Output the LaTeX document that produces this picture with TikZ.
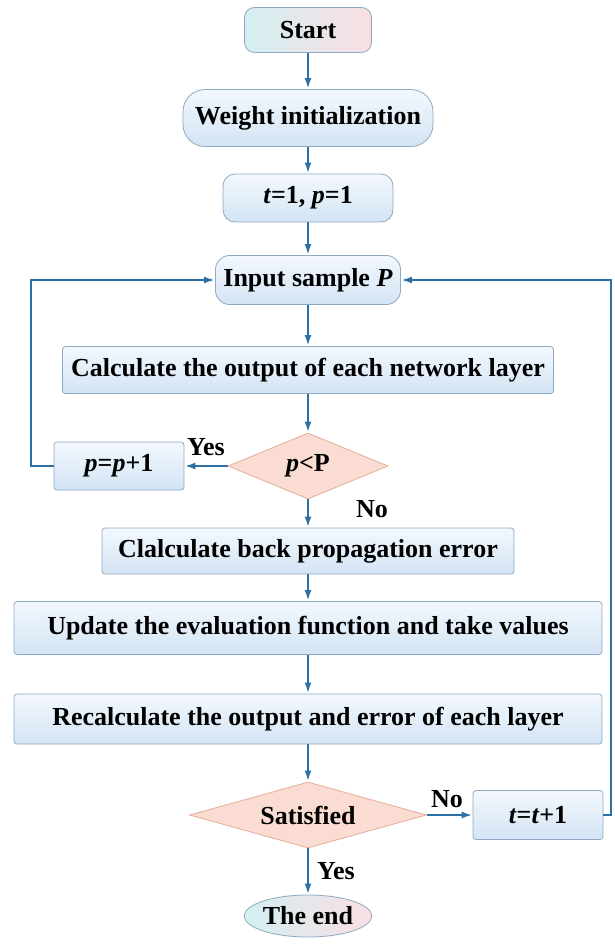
\documentclass[tikz,border=0pt]{standalone}
\usepackage{fontspec}
\setmainfont{Liberation Serif}
\usepackage{tikz}
\usetikzlibrary{arrows.meta,shapes.geometric}
\definecolor{lblue}{RGB}{44,112,165}
\definecolor{bframe}{RGB}{142,169,193}
\definecolor{btop}{RGB}{243,248,253}
\definecolor{bbot}{RGB}{211,228,244}
\definecolor{dfill}{RGB}{251,220,210}
\definecolor{dframe}{RGB}{227,174,152}
\definecolor{scyan}{RGB}{211,239,241}
\definecolor{spink}{RGB}{249,222,226}

\begin{document}
\begin{tikzpicture}[x=1pt,y=-1pt,
    font=\fontsize{26}{28}\selectfont\bfseries,
    box/.style={draw=bframe,line width=0.8pt,top color=btop,bottom color=bbot,
        inner sep=0pt,rounded corners=3pt},
    term/.style={draw=bframe,line width=0.8pt,left color=scyan,right color=spink,inner sep=0pt},
    test/.style={diamond,draw=dframe,line width=0.8pt,fill=dfill,inner sep=0pt,aspect=2.4},
    flow/.style={lblue,line width=2.2pt,-{Latex[length=11pt,width=7pt]}},
    lbl/.style={inner sep=0pt}]
\useasboundingbox (0,0) rectangle (614,944);

\node[term,rounded corners=10pt,minimum width=127pt,minimum height=45pt] (start) at (308,30) {Start};
\node[box,rounded corners=22pt,minimum width=250pt,minimum height=57pt] (weight) at (308,118) {Weight initialization};
\node[box,rounded corners=12pt,minimum width=170pt,minimum height=48pt] (tinit) at (308,198) {\textit{t}=1, \textit{p}=1};
\node[box,rounded corners=14pt,minimum width=185pt,minimum height=49pt] (input) at (308,280) {Input sample \textit{P}};
\node[box,minimum width=491pt,minimum height=47pt] (calcout) at (308,370) {Calculate the output of each network layer};
\node[test,minimum width=160pt,minimum height=66pt] (pcheck) at (308,466) {\textit{p}<P};
\node[box,minimum width=130pt,minimum height=48pt] (pinc) at (119,466) {\textit{p}=\textit{p}+1};
\node[box,minimum width=412pt,minimum height=46pt] (backprop) at (308,551) {Clalculate back propagation error};
\node[box,minimum width=588pt,minimum height=53pt] (update) at (308,628) {Update the evaluation function and take values};
\node[box,minimum width=588pt,minimum height=50pt] (recalc) at (308,719) {Recalculate the output and error of each layer};
\node[test,aspect=3.6,minimum width=237pt,minimum height=66pt] (satisfied) at (308,815) {Satisfied};
\node[box,minimum width=130pt,minimum height=49pt] (tinc) at (538,815) {\textit{t}=\textit{t}+1};
\node[term,ellipse,minimum width=122pt,minimum height=42pt] (theend) at (308,916) {The end};

\node[lbl] (yesp) at (206,447) {Yes};
\node[lbl] (nop) at (372,509) {No};
\node[lbl] (nos) at (447,799) {No};
\node[lbl] (yess) at (336,871) {Yes};

\coordinate (lloop) at (31,466);
\coordinate (rloop) at (611,815);

\foreach \a/\b in {start/weight,weight/tinit,tinit/input,input/calcout,calcout/pcheck,
    pcheck/backprop,backprop/update,update/recalc,recalc/satisfied,satisfied/theend} {
    \draw[flow] (\a) -- (\b);
}
\draw[flow] (pcheck) -- (pinc);
\draw[flow] (satisfied) -- (tinc);
\draw[flow] (pinc.west) -- (lloop) |- (input.west);
\draw[flow] (tinc.east) -- (rloop) |- (input.east);
\end{tikzpicture}
\end{document}
